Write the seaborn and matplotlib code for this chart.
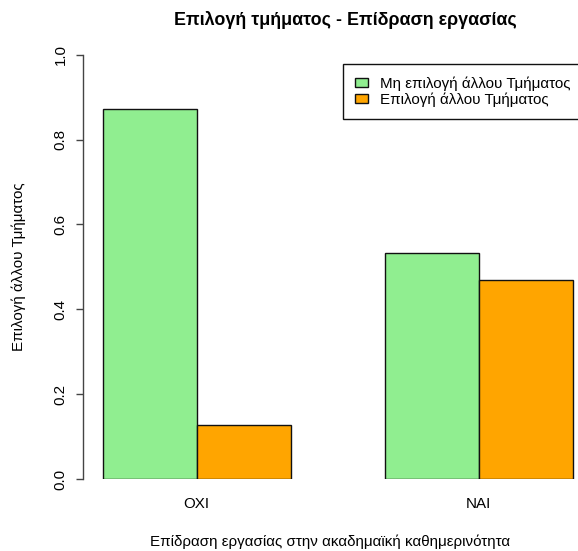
import matplotlib
matplotlib.use("Agg")
import matplotlib.pyplot as plt
import pandas as pd
import seaborn as sns

# data
categories = ["ΟΧΙ", "ΝΑΙ"]
groups = ["Μη επιλογή άλλου Τμήματος", "Επιλογή άλλου Τμήματος"]
not_other = [0.873, 0.532]
other = [0.127, 0.468]
colors = ["#90EE90", "#FFA500"]
yticks = [0.0, 0.2, 0.4, 0.6, 0.8, 1.0]

df = pd.DataFrame({
    "work": categories * 2,
    "group": [groups[0]] * 2 + [groups[1]] * 2,
    "share": not_other + other,
})

sns.set_style("white")
plt.rcParams["font.family"] = ["Liberation Sans", "DejaVu Sans"]
plt.rcParams["font.size"] = 10.9
plt.rcParams["text.color"] = "black"
plt.rcParams["axes.labelcolor"] = "black"
plt.rcParams["xtick.color"] = "black"
plt.rcParams["ytick.color"] = "black"

W, H = 578, 551
fig = plt.figure(figsize=(W / 100, H / 100), dpi=100)
ax = fig.add_axes([83 / W, 72 / H, (W - 83) / W, (479 - 54.7) / H])

sns.barplot(data=df, x="work", y="share", hue="group", order=categories,
            hue_order=groups, palette=colors, saturation=1, width=2 / 3,
            edgecolor="#111111", linewidth=1, errorbar=None, legend=False, ax=ax)

ax.set_xlim(-0.4025, 1.3528)
ax.set_ylim(0, 1)
for s in ["top", "right", "bottom"]:
    ax.spines[s].set_visible(False)
ax.spines["left"].set_color("#444444")
ax.spines["left"].set_linewidth(1)
ax.set_yticks(yticks)
ax.set_yticklabels(["%.1f" % v for v in yticks], rotation=90, va="center")
ax.tick_params(axis="y", left=True, length=5, width=1, color="#444444", pad=6)
ax.tick_params(axis="x", bottom=False, length=0, pad=13)
ax.set_xlabel("Επίδραση εργασίας στην ακαδημαϊκή καθημερινότητα", labelpad=17)
ax.set_ylabel("Επιλογή άλλου Τμήματος", labelpad=20)

fig.text(345 / W, 1 - 20 / H, "Επιλογή τμήματος - Επίδραση εργασίας",
         ha="center", va="center", fontsize=12.9, fontweight="bold")

handles = [plt.Rectangle((0, 0), 1, 1, facecolor=c, edgecolor="#111111", linewidth=1)
           for c in colors]
leg = fig.legend(handles, groups, loc="upper left",
                 bbox_to_anchor=(343.3 / W, 1 - 64.3 / H), bbox_transform=fig.transFigure,
                 fancybox=False, framealpha=1, edgecolor="#111111",
                 handlelength=0.8, handleheight=0.6, handletextpad=0.85,
                 labelspacing=0.1, borderpad=0.8, borderaxespad=0)
leg.get_frame().set_linewidth(1)

fig.savefig("out.png", dpi=100)
